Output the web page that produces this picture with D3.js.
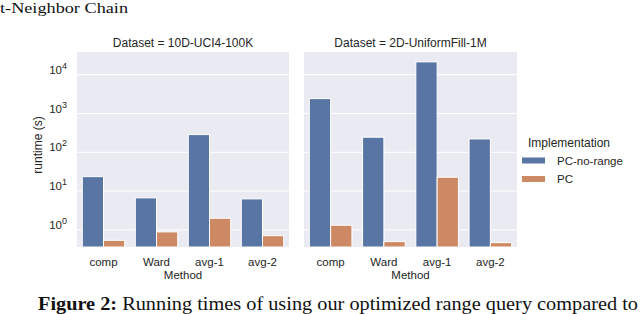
<!DOCTYPE html>
<html>
<head>
<meta charset="utf-8">
<script src="https://cdn.jsdelivr.net/npm/d3@7"></script>
<style>
  body { margin: 0; background: #fff; }
  svg { display: block; }
</style>
</head>
<body>
<div id="chart"></div>
<script>
// data
var methods      = ['comp', 'Ward', 'avg-1', 'avg-2'];
var impls        = ['PC-no-range', 'PC'];
var datasets     = ['10D-UCI4-100K', '2D-UniformFill-1M'];
var uci_norange  = [23.6, 6.7, 286, 6.3];
var uci_pc       = [0.54, 0.89, 2.0, 0.71];
var unif_norange = [2420, 245, 21400, 221];
var unif_pc      = [1.32, 0.50, 22.8, 0.47];
var y_ticks      = [0, 1, 2, 3, 4];   // exponents

var series = [
    [uci_norange, uci_pc],
    [unif_norange, unif_pc]
];

var width  = 640;
var height = 314;
var colors = ['#5975a4', '#cc8963'];
var font   = 'Liberation Sans, Arial, sans-serif';

var svg = d3.select('#chart')
    .append('svg')
    .attr('width', width)
    .attr('height', height);

// panels
var panel_top    = 52;
var panel_bottom = 247;
var panels_x     = [[77, 289], [304, 517]];

var y_scale = d3.scaleLog()
    .domain([Math.pow(10, -0.44), Math.pow(10, 4.585)])
    .range([panel_bottom, panel_top]);

datasets.forEach(function(ds, p){
    var x0 = panels_x[p][0], x1 = panels_x[p][1];
    var g = svg.append('g');

    var x_scale = d3.scaleBand()
        .domain(methods)
        .range([x0, x1]);
    var inner = d3.scaleBand()
        .domain(impls)
        .range([0, x_scale.bandwidth() * 0.8]);

    g.append('rect')
        .attr('x', x0).attr('y', panel_top)
        .attr('width', x1 - x0).attr('height', panel_bottom - panel_top)
        .attr('fill', '#eaeaf2');

    // grid
    g.selectAll('line.grid')
        .data(y_ticks)
        .enter()
        .append('line')
        .attr('x1', x0).attr('x2', x1)
        .attr('y1', function(d){ return y_scale(Math.pow(10, d)); })
        .attr('y2', function(d){ return y_scale(Math.pow(10, d)); })
        .attr('stroke', '#fff')
        .attr('stroke-width', 1);

    // bars
    impls.forEach(function(imp, k){
        g.selectAll('rect.b' + k)
            .data(series[p][k])
            .enter()
            .append('rect')
            .attr('x', function(d, i){
                return x_scale(methods[i]) + x_scale.bandwidth() * 0.1 + inner(imp);
            })
            .attr('y', function(d){ return y_scale(d); })
            .attr('width', inner.bandwidth())
            .attr('height', function(d){ return panel_bottom - y_scale(d); })
            .attr('fill', colors[k])
            .attr('stroke', '#fff')
            .attr('stroke-width', 1);
    });

    // x tick labels
    g.selectAll('text.xt')
        .data(methods)
        .enter()
        .append('text')
        .text(function(d){ return d; })
        .attr('x', function(d){ return x_scale(d) + x_scale.bandwidth() / 2; })
        .attr('y', 266)
        .attr('text-anchor', 'middle')
        .attr('font-family', font)
        .attr('font-size', 11.5)
        .attr('fill', '#262626');

    g.append('text')
        .text('Method')
        .attr('x', (x0 + x1) / 2)
        .attr('y', 279)
        .attr('text-anchor', 'middle')
        .attr('font-family', font)
        .attr('font-size', 11.5)
        .attr('fill', '#262626');

    g.append('text')
        .text('Dataset = ' + ds)
        .attr('x', (x0 + x1) / 2)
        .attr('y', 47)
        .attr('text-anchor', 'middle')
        .attr('font-family', font)
        .attr('font-size', 12)
        .attr('fill', '#262626');
});

// y tick labels (left panel only)
var yt = svg.selectAll('text.yt')
    .data(y_ticks)
    .enter()
    .append('text')
    .attr('x', 67)
    .attr('y', function(d){ return y_scale(Math.pow(10, d)) - 1; })
    .attr('text-anchor', 'end')
    .attr('font-family', font)
    .attr('font-size', 11.5)
    .attr('fill', '#262626');
yt.append('tspan').text('10');
yt.append('tspan')
    .text(function(d){ return d; })
    .attr('dy', -5)
    .attr('font-size', 9);

svg.append('text')
    .text('runtime (s)')
    .attr('transform', 'translate(42,145) rotate(-90)')
    .attr('text-anchor', 'middle')
    .attr('font-family', font)
    .attr('font-size', 12)
    .attr('fill', '#262626');

// legend
var legend = svg.append('g');
legend.append('text')
    .text('Implementation')
    .attr('x', 528).attr('y', 147)
    .attr('font-family', font)
    .attr('font-size', 12)
    .attr('fill', '#262626');
impls.forEach(function(imp, k){
    legend.append('rect')
        .attr('x', 522).attr('y', 157.5 + k * 18.5)
        .attr('width', 23).attr('height', 6)
        .attr('fill', colors[k]);
    legend.append('text')
        .text(imp)
        .attr('x', 557).attr('y', 164.5 + k * 18.5)
        .attr('font-family', font)
        .attr('font-size', 11.5)
        .attr('fill', '#262626');
});

// page text around the figure
svg.append('text')
    .text('t-Neighbor Chain')
    .attr('x', 0).attr('y', 12.5)
    .attr('font-family', 'Liberation Serif, serif')
    .attr('font-size', 15)
    .attr('textLength', 128)
    .attr('lengthAdjust', 'spacingAndGlyphs')
    .attr('fill', '#111');

var cap = svg.append('text')
    .attr('x', 38).attr('y', 310)
    .attr('font-family', 'Liberation Serif, serif')
    .attr('font-size', 18)
    .attr('textLength', 600)
    .attr('lengthAdjust', 'spacingAndGlyphs')
    .attr('fill', '#111');
cap.append('tspan').text('Figure 2:').attr('font-weight', 'bold');
cap.append('tspan').text(' Running times of using our optimized range query compared to');
</script>
</body>
</html>
